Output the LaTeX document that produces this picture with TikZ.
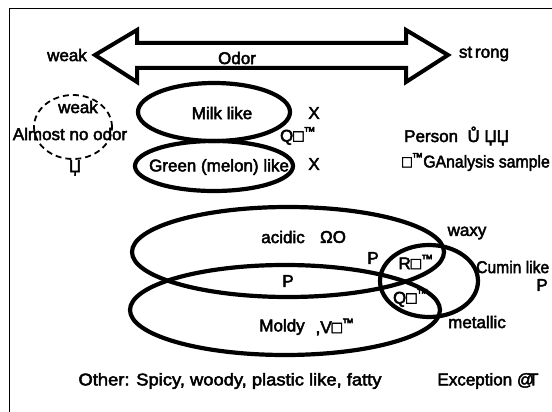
\documentclass[tikz,border=0pt]{standalone}
\usepackage{fontspec}
\setmainfont{Liberation Sans}
\usetikzlibrary{shapes.geometric}
\newcommand\heavytext[1]{\special{pdf:literal direct 0.45 w 2 Tr}#1\special{pdf:literal direct 0 Tr}}
\begin{document}
\begin{tikzpicture}[x=1pt,y=-1pt,
  lbl/.style={font=\fontsize{17}{20}\selectfont, inner sep=0pt, execute at begin node=\special{pdf:literal direct 0.45 w 2 Tr}, execute at end node=\special{pdf:literal direct 0 Tr}},
  oval/.style={ellipse, draw, line width=4.2pt, inner sep=0pt},
  ring/.style={ellipse, draw, line width=1.8pt, dash pattern=on 6pt off 4pt, inner sep=0pt}]
\useasboundingbox (0,0) rectangle (552,412);
\clip (0,0) rectangle (552,412);
\node[draw, line width=1.4pt, minimum width=560, minimum height=420, anchor=north west, inner sep=0pt] (frame) at (9,8) {};
% big double arrow
\draw[line width=4pt, line join=miter] (95,55) -- (137,30) -- (137,43) -- (406,43) -- (406,30) -- (448,55)
  -- (406,82) -- (406,68) -- (137,68) -- (137,82) -- cycle;
\node[lbl] (odor) at (237,58) {Odor};
\node[lbl] (weak) at (67,55) {weak};
\node[lbl] (strong) at (484,54) {st\,rong};
% dashed circle
\node[ring, minimum width=78, minimum height=64] (nocirc) at (73,127) {};
\node[lbl] (weak2) at (78,107) {weak};
\node[lbl] (almost) at (70,134) {Almost no odor};
\node[lbl] (j1) at (75,168) {Џ};
% milk / green
\node[oval, minimum width=152, minimum height=58] (milk) at (214,112) {};
\node[oval, minimum width=158, minimum height=50] (green) at (214,166) {};
\node[lbl] (milkt) at (222,113) {Milk like};
\node[lbl] (greent) at (219,167) {Green (melon) like};
\node[lbl] (x1) at (314,113) {X};
\node[lbl] (x2) at (314,164) {X};
\node[lbl] (q1) at (298,136) {Q□\textsuperscript{™}};
\node[lbl, anchor=west] (person) at (404,136) {Person\ \ Ů ЏЏ};
\node[lbl, anchor=west] (sample) at (402,162) {\scalebox{0.93}[1]{□\textsuperscript{™}GAnalysis sample}};
% big ellipses
\node[oval, minimum width=312, minimum height=90] (acid) at (288,252) {};
\node[oval, minimum width=310, minimum height=90] (mold) at (285,310) {};
\node[oval, minimum width=98, minimum height=72] (cumin) at (429,281) {};
\node[lbl] (acidt) at (283,237) {acidic};
\node[lbl] (oo) at (333,237) {ΩO};
\node[lbl] (p1) at (373,258) {P};
\node[lbl] (p2) at (288,281) {P};
\node[lbl] (moldt) at (282,327) {Moldy};
\node[lbl] (vv) at (335,327) {,V□\textsuperscript{™}};
\node[lbl] (waxy) at (467,233) {waxy};
\node[lbl] (r1) at (416,262) {R□\textsuperscript{™}};
\node[lbl] (q2) at (411,298) {Q□\textsuperscript{™}};
\node[lbl, anchor=west] (cuminT) at (476,267) {\scalebox{0.92}[1]{Cumin like}};
\node[lbl] (p3) at (542,285) {P};
\node[lbl] (metal) at (477,322) {metallic};
\node[lbl] (other) at (230,381) {\scalebox{1.08}[1]{Other: Spicy, woody, plastic like, fatty}};
\node[lbl] (exc) at (488,381) {Exception @\kern-6pt T};
\end{tikzpicture}
\end{document}
